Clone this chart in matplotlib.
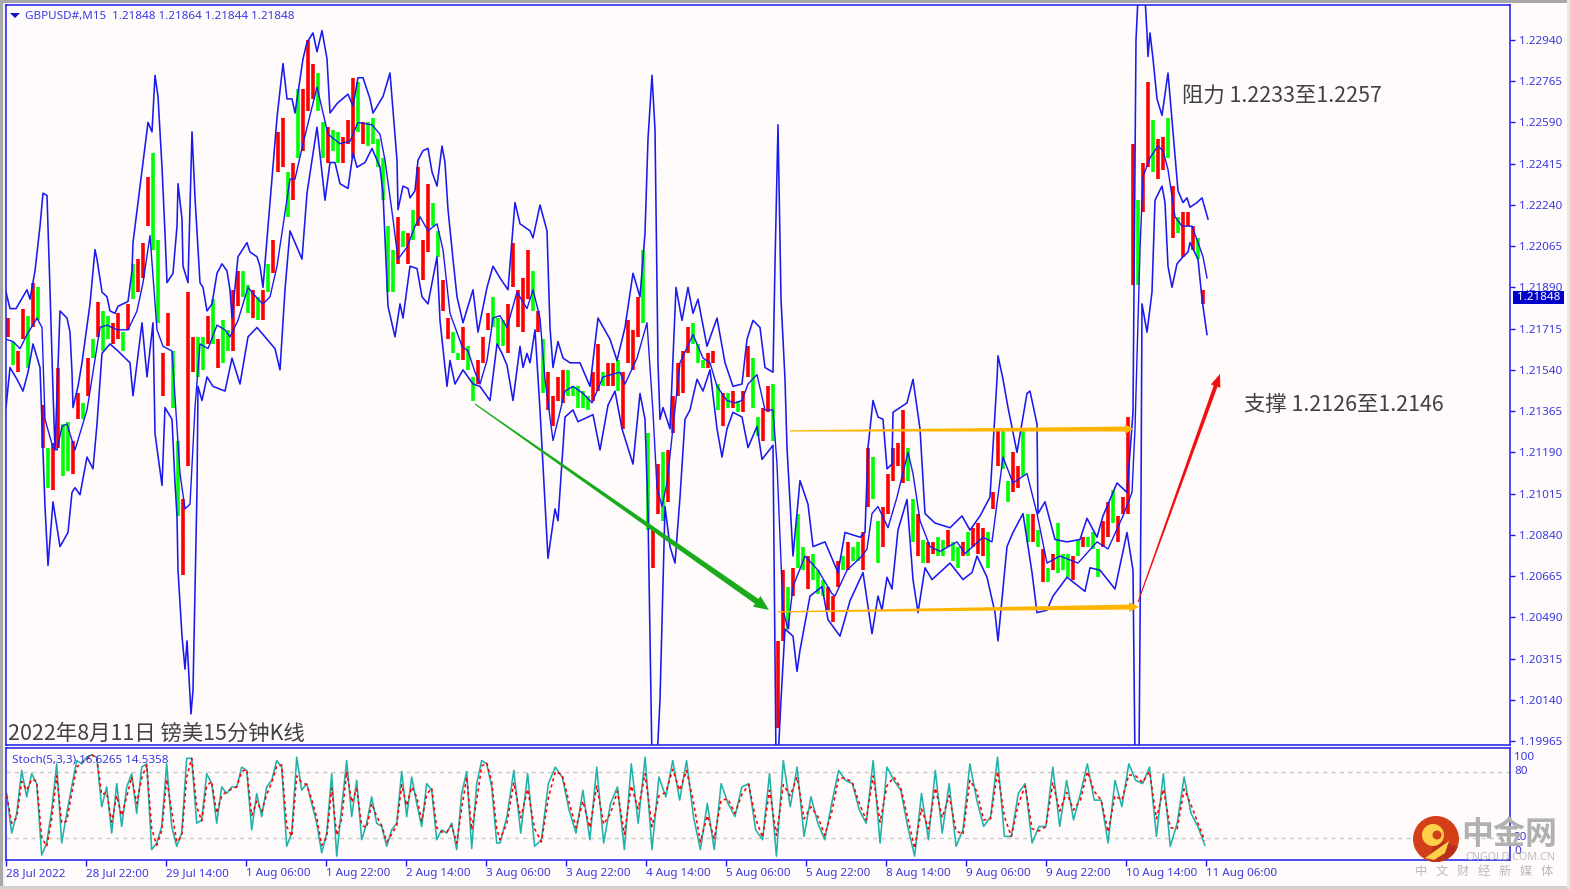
import numpy as np
import matplotlib
matplotlib.use("Agg")
import matplotlib.pyplot as plt
from matplotlib.patches import Polygon, Rectangle, Circle, Wedge
from matplotlib.transforms import IdentityTransform

# ---- data: (trading hours since the first bar, price) ----
upper_band = [(0,1.2187),(.8,1.2180),(2,1.2180),(4.2,1.2188),(4.8,1.2184),(5.8,1.2196),(6.8,1.2215),(7.4,1.2229),(8.2,1.2228),(8.8,1.2188),
(9.4,1.2145),(9.8,1.2120),(10.8,1.2179),(12.2,1.2176),(12.8,1.2170),(13.2,1.2153),(13.4,1.2138),(14.4,1.2147),(15.2,1.2157),(16.8,1.2182),
(17.8,1.2205),(18.2,1.2201),(19.2,1.2187),(20.2,1.2185),(20.8,1.2179),(21.8,1.2178),(22.4,1.2181),(24.4,1.2183),(25.2,1.2196),(25.4,1.2208),
(28.4,1.2259),(29.2,1.2255),(29.8,1.2279),(30.4,1.2270),(31.2,1.2240),(31.8,1.2212),(32.2,1.2191),(33.4,1.2195),(34.2,1.2215),(34.4,1.2233),
(35.2,1.2218),(35.4,1.2198),(36.4,1.2191),(37.2,1.2255),(37.8,1.2227),(38.8,1.2191),(39.4,1.2189),(40.2,1.2179),(41.2,1.2182),(42.2,1.2195),
(43.2,1.2199),(44.2,1.2196),(44.8,1.2188),(45.2,1.2176),(46.4,1.2202),(48.2,1.2208),(48.8,1.2204),(50.2,1.2202),(50.8,1.2198),(51.4,1.2189),
(54.2,1.2261),(55.4,1.2284),(56.2,1.2269),(57.2,1.2269),(57.8,1.2263),(59.4,1.2286),(60.2,1.2293),(61.4,1.2297),(62.2,1.2289),(63.2,1.2298),
(64.2,1.2286),(64.8,1.2263),(66.2,1.2267),(68.4,1.2271),(69.4,1.2266),(70.4,1.2278),(71.4,1.2278),(72.8,1.2269),(73.4,1.2263),(75.4,1.2270),
(76.8,1.2280),(77.4,1.2264),(78.2,1.2243),(78.4,1.2222),(79.4,1.2232),(80.4,1.2231),(80.8,1.2227),(81.8,1.2230),(82.4,1.2243),(83.4,1.2247),
(84.4,1.2248),(85.2,1.2238),(86.2,1.2232),(87.2,1.2249),(87.8,1.2242),(88.4,1.2222),(89.4,1.2201),(90.2,1.2185),(91.4,1.2174),(93.4,1.2188),
(94.4,1.2170),(96.2,1.2189),(97.4,1.2198),(98.8,1.2193),(100.4,1.2188),(101.8,1.2225),(102.8,1.2216),(104.8,1.2213),(105.4,1.2210),(106.8,1.2224),
(108.2,1.2213),(108.8,1.2172),(109.4,1.2155),(110.4,1.2166),(111.4,1.2159),(112.8,1.2157),(114.8,1.2157),(116.8,1.2147),(118.4,1.2176),(120.8,1.2167),
(122.2,1.2158),(123.8,1.2172),(125.4,1.2195),(126.8,1.2185),(127.8,1.2212),(128.4,1.2252),(129.2,1.2279),(129.8,1.2256),(130.4,1.2157),(130.8,1.2133),
(131.4,1.2138),(132.8,1.2129),(134,1.2189),(135.2,1.2175),(136.4,1.2189),(137.4,1.2178),(138.4,1.2184),(140.2,1.2164),(142.2,1.2176),(143.8,1.2157),
(145.4,1.2147),(147.2,1.2148),(148.2,1.2167),(149.4,1.2175),(150.8,1.2172),(151.8,1.2155),(153.4,1.2153),(153.8,1.2199),(154.4,1.2258),(155,1.2184),
(155.8,1.2150),(156.2,1.2121),(157.4,1.2075),(158.8,1.2107),(160.4,1.2097),(161.4,1.2079),(163.8,1.2081),(166.4,1.2068),(167.8,1.2085),(170.8,1.2083),
(171.8,1.2085),(172.4,1.2121),(173.4,1.2141),(174.4,1.2134),(175.4,1.2133),(176.2,1.2112),(177.2,1.2114),(177.4,1.2136),(178.8,1.2138),(180.2,1.2140),
(181.4,1.2150),(182.8,1.2129),(183.8,1.2093),(185.8,1.2089),(188.8,1.2087),(191.2,1.2092),(192.8,1.2086),(194.8,1.2092),(196.8,1.2100),(198.2,1.2150),
(198.4,1.2160),(199.4,1.2150),(200.4,1.2138),(202.2,1.2119),(204.2,1.2144),(204.8,1.2145),(206.2,1.2131),(206.4,1.2093),(207.8,1.2098),(209.8,1.2082),
(212.2,1.2081),(214.8,1.2082),(216.2,1.2091),(218.2,1.2083),(219.4,1.2092),(222.2,1.2106),(224.2,1.2102),(225.4,1.2136),(226,1.2294),(226.4,1.2312),
(227.8,1.2312),(228.2,1.2297),(228.4,1.2287),(228.8,1.2297),(229.4,1.2286),(230.2,1.2269),(231.2,1.2262),(232.4,1.2280),(233.4,1.2255),(234.4,1.2230),
(235.4,1.2225),(236.2,1.2227),(236.8,1.2223),(238.2,1.2225),(239.2,1.2227),(240.4,1.2218)]

middle_band = [(0,1.2167),(1.4,1.2166),(2.8,1.2163),(4.2,1.2169),(6.2,1.2176),(7.2,1.2172),(7.8,1.2133),(9.4,1.2121),(10.2,1.2120),(11.2,1.2130),
(12.2,1.2131),(13.8,1.2120),(15.2,1.2130),(16.2,1.2137),(17.4,1.2153),(18.8,1.2172),(20.2,1.2173),(22.2,1.2171),(24.4,1.2171),(26.2,1.2179),
(27.4,1.2191),(28.8,1.2211),(30.2,1.2171),(31.4,1.2164),(33.2,1.2162),(34.8,1.2110),(35.8,1.2095),(36.8,1.2097),(37.8,1.2138),(38.8,1.2165),
(40.4,1.2163),(42.2,1.2173),(43.8,1.2171),(44.8,1.2168),(46.4,1.2175),(48.4,1.2189),(50.4,1.2184),(51.4,1.2182),(52.8,1.2185),(54.2,1.2198),
(56.8,1.2235),(57.8,1.2235),(59.4,1.2250),(62.2,1.2274),(64.4,1.2254),(66.8,1.2250),(68.8,1.2251),(70.4,1.2259),(73.2,1.2258),(74.8,1.2254),
(75.8,1.2243),(77.4,1.2218),(78.4,1.2201),(80.2,1.2206),(81.8,1.2215),(82.8,1.2219),(84.4,1.2213),(86.2,1.2216),(87.4,1.2205),(88.8,1.2178),
(91.2,1.2164),(92.4,1.2162),(93.8,1.2153),(94.8,1.2148),(96.2,1.2158),(97.4,1.2176),(98.8,1.2177),(100.2,1.2172),(102.2,1.2187),(104.2,1.2180),
(105.4,1.2188),(106.8,1.2176),(107.8,1.2150),(109.4,1.2124),(111.8,1.2145),(113.4,1.2147),(115.4,1.2144),(117.2,1.2140),(119.4,1.2151),(122.8,1.2153),
(123.8,1.2148),(126.2,1.2159),(128.2,1.2174),(129.4,1.2136),(130.2,1.2104),(131.2,1.2096),(132.2,1.2106),(134.8,1.2157),(137.4,1.2169),(139.4,1.2159),
(140.8,1.2157),(142.2,1.2147),(144.2,1.2141),(145.8,1.2140),(147.2,1.2141),(148.4,1.2148),(150.2,1.2152),(151.8,1.2137),(153.4,1.2137),(154.2,1.2114),
(155.4,1.2052),(156.4,1.2044),(157.4,1.2062),(159.8,1.2075),(162.4,1.2069),(165.2,1.2059),(165.8,1.2058),(168.2,1.2069),(171.2,1.2075),(172.2,1.2078),
(173.2,1.2093),(174.4,1.2096),(176.4,1.2087),(178.2,1.2100),(180.4,1.2119),(181.4,1.2110),(182.8,1.2090),(184.8,1.2079),(186.8,1.2077),(190.2,1.2081),
(191.8,1.2076),(195.4,1.2083),(197.2,1.2081),(199.4,1.2117),(201.4,1.2106),(204.2,1.2110),(206.2,1.2093),(208.2,1.2072),(210.8,1.2075),(214.4,1.2072),
(218.2,1.2081),(220.4,1.2078),(223.4,1.2092),(225.2,1.2102),(225.8,1.2129),(226.8,1.2205),(227.4,1.2236),(228.8,1.2244),(230.4,1.2249),(231.4,1.2247),
(232.4,1.2239),(233.8,1.2219),(235.2,1.2215),(237.2,1.2215),(238.4,1.2208),(239.4,1.2202),(240.2,1.2193)]

lower_band = [(0,1.2138),(.8,1.2155),(2.2,1.2150),(3.4,1.2145),(4.4,1.2153),(5.4,1.2165),(6.8,1.2155),(7.8,1.2096),(8.4,1.2071),(9.4,1.2098),
(10.8,1.2079),(12.4,1.2085),(13.2,1.2102),(13.8,1.2104),(14.8,1.2101),(16.2,1.2117),(17.4,1.2112),(18.2,1.2131),(19.2,1.2161),(20.8,1.2165),
(22.4,1.2162),(24.8,1.2157),(25.4,1.2143),(27.2,1.2174),(28.2,1.2151),(29.4,1.2174),(29.8,1.2127),(31.2,1.2105),(31.8,1.2138),(33.2,1.2133),
(33.8,1.2106),(34.2,1.2092),(34.4,1.2069),(35.2,1.2041),(35.8,1.2027),(36.2,1.2039),(37,1.2008),(37.4,1.2018),(38.2,1.2103),(38.4,1.2147),
(39.2,1.2141),(40.2,1.2151),(41.4,1.2147),(43.8,1.2145),(45.2,1.2159),(46.8,1.2148),(48.4,1.2168),(50.2,1.2172),(52.2,1.2167),(53.8,1.2163),
(54.8,1.2154),(55.8,1.2188),(56.8,1.2213),(57.8,1.2208),(59.2,1.2201),(60.2,1.2229),(62.2,1.2257),(63.8,1.2226),(64.8,1.2242),(65.8,1.2242),
(66.8,1.2233),(68.4,1.2231),(69.4,1.2246),(70.2,1.2240),(71.8,1.2242),(73.2,1.2248),(74.8,1.2240),(75.4,1.2229),(76.4,1.2181),(77.8,1.2168),
(78.8,1.2182),(79.4,1.2176),(80.8,1.2198),(82.2,1.2197),(83.2,1.2185),(84.4,1.2182),(86.2,1.2202),(86.8,1.2175),(88.2,1.2147),(88.8,1.2158),
(89.8,1.2148),(91.4,1.2154),(93.4,1.2148),(94.8,1.2147),(96.8,1.2141),(98.2,1.2165),(99.2,1.2161),(100.2,1.2156),(101.4,1.2141),(102.8,1.2164),
(103.4,1.2155),(104.2,1.2161),(104.8,1.2157),(105.8,1.2171),(106.8,1.2137),(108.4,1.2074),(109.8,1.2095),(110.4,1.2090),(111.8,1.2134),(113.4,1.2137),
(114.4,1.2132),(117.4,1.2135),(118.8,1.2120),(120.4,1.2139),(121.8,1.2145),(123.2,1.2129),(125.4,1.2114),(126.8,1.2144),(127.8,1.2133),(128.4,1.2093),
(129.2,1.1988),(130.2,1.1988),(130.8,1.2014),(131.8,1.2096),(132.8,1.2079),(133.8,1.2072),(134.8,1.2100),(135.8,1.2133),(136.8,1.2137),(138.2,1.2150),
(139.4,1.2145),(140.8,1.2154),(142.2,1.2129),(143.2,1.2117),(144.2,1.2129),(145.4,1.2136),(147.2,1.2134),(148.4,1.2121),(150.2,1.2130),(151.2,1.2116),
(153.4,1.2122),(154,1.1988),(154.4,1.1988),(155,1.2014),(155.8,1.2044),(157.4,1.2041),(158.2,1.2026),(158.8,1.2035),(160.8,1.2058),(163.2,1.2062),
(164.4,1.2048),(166.8,1.2041),(168.8,1.2056),(171.4,1.2068),(173.2,1.2042),(174.4,1.2058),(175.2,1.2052),(176.2,1.2066),(177.2,1.2061),(178.4,1.2086),
(180.2,1.2099),(181.4,1.2065),(182.4,1.2051),(183.8,1.2070),(185.2,1.2065),(188.8,1.2072),(191.4,1.2065),(193.2,1.2068),(194.2,1.2075),(196.2,1.2066),
(197.8,1.2051),(198.4,1.2039),(200.2,1.2079),(201.4,1.2085),(203.4,1.2093),(205.2,1.2068),(206.2,1.2051),(208.2,1.2052),(209.4,1.2058),(212.2,1.2066),
(215.8,1.2060),(216.8,1.2070),(218.8,1.2069),(221.8,1.2061),(224.2,1.2085),(225.4,1.2069),(225.8,1.1988),(226.6,1.1988),(227,1.2099),(227.2,1.2182),
(228.2,1.2170),(229.2,1.2187),(229.8,1.2226),(231.2,1.2232),(231.8,1.2225),(232.4,1.2198),(233.2,1.2189),(234.2,1.2199),(235.4,1.2202),(236.4,1.2204),
(236.8,1.2208),(238.4,1.2201),(239.2,1.2184),(240.2,1.2169)]

# one sampled candle per trading hour: (high, low, bullish flag)
candles = [
(1.2176,1.2168,1),(1.2166,1.2156,0),(1.2162,1.2153,1),(1.2180,1.2167,1),(1.2177,1.2155,0),(1.2191,1.2172,1),(1.2189,1.2175,0),(1.2139,1.2121,1),(1.2121,1.2104,0),(1.2123,1.2103,1),
(1.2155,1.2121,1),(1.2131,1.2109,0),(1.2132,1.2111,0),(1.2124,1.2110,1),(1.2144,1.2133,1),(1.2140,1.2133,0),(1.2159,1.2143,1),(1.2167,1.2159,0),(1.2183,1.2168,1),(1.2179,1.2162,0),
(1.2177,1.2167,0),(1.2174,1.2165,1),(1.2178,1.2167,1),(1.2170,1.2162,0),(1.2182,1.2171,1),(1.2199,1.2184,0),(1.2201,1.2187,1),(1.2208,1.2193,1),(1.2236,1.2215,1),(1.2246,1.2205,0),
(1.2209,1.2174,0),(1.2161,1.2143,1),(1.2178,1.2164,1),(1.2162,1.2138,0),(1.2124,1.2092,0),(1.2099,1.2067,1),(1.2187,1.2113,1),(1.2168,1.2153,1),(1.2168,1.2151,0),(1.2168,1.2154,0),
(1.2177,1.2165,1),(1.2184,1.2165,0),(1.2167,1.2155,1),(1.2175,1.2157,0),(1.2171,1.2162,0),(1.2188,1.2162,1),(1.2196,1.2181,1),(1.2196,1.2185,0),(1.2190,1.2178,0),(1.2188,1.2176,1),
(1.2185,1.2175,0),(1.2188,1.2175,1),(1.2199,1.2187,0),(1.2209,1.2195,1),(1.2255,1.2238,1),(1.2261,1.2240,1),(1.2238,1.2219,0),(1.2242,1.2226,1),(1.2273,1.2244,0),(1.2273,1.2247,1),
(1.2294,1.2264,1),(1.2284,1.2269,1),(1.2280,1.2264,0),(1.2259,1.2244,0),(1.2257,1.2242,1),(1.2256,1.2247,0),(1.2255,1.2242,0),(1.2253,1.2242,1),(1.2260,1.2250,1),(1.2278,1.2244,1),
(1.2276,1.2255,0),(1.2259,1.2250,1),(1.2259,1.2249,0),(1.2261,1.2250,0),(1.2252,1.2240,0),(1.2244,1.2226,0),(1.2215,1.2187,0),(1.2205,1.2187,0),(1.2219,1.2199,1),(1.2213,1.2206,0),
(1.2212,1.2199,1),(1.2222,1.2209,0),(1.2240,1.2215,1),(1.2209,1.2192,1),(1.2233,1.2204,1),(1.2225,1.2215,0),(1.2213,1.2202,0),(1.2192,1.2179,1),(1.2176,1.2167,1),(1.2170,1.2161,0),
(1.2161,1.2158,0),(1.2172,1.2158,1),(1.2164,1.2154,0),(1.2151,1.2141,0),(1.2158,1.2148,1),(1.2168,1.2157,1),(1.2178,1.2171,1),(1.2185,1.2172,0),(1.2176,1.2164,0),(1.2175,1.2164,0),
(1.2182,1.2161,1),(1.2208,1.2189,1),(1.2188,1.2172,1),(1.2193,1.2170,1),(1.2205,1.2184,1),(1.2196,1.2179,0),(1.2179,1.2170,1),(1.2167,1.2144,0),(1.2153,1.2137,1),(1.2143,1.2130,1),
(1.2151,1.2141,1),(1.2154,1.2140,1),(1.2154,1.2143,0),(1.2147,1.2143,0),(1.2147,1.2138,0),(1.2145,1.2138,0),(1.2143,1.2137,0),(1.2153,1.2141,1),(1.2165,1.2145,1),(1.2153,1.2147,0),
(1.2157,1.2147,1),(1.2157,1.2147,1),(1.2158,1.2145,0),(1.2153,1.2129,1),(1.2175,1.2157,1),(1.2171,1.2154,1),(1.2185,1.2168,1),(1.2205,1.2174,0),(1.2127,1.2086,0),(1.2086,1.2070,1),
(1.2114,1.2093,1),(1.2119,1.2090,0),(1.2120,1.2098,1),(1.2143,1.2127,1),(1.2157,1.2143,1),(1.2162,1.2144,1),(1.2172,1.2161,1),(1.2174,1.2165,0),(1.2165,1.2157,0),(1.2158,1.2155,0),
(1.2161,1.2155,1),(1.2162,1.2157,1),(1.2148,1.2137,0),(1.2144,1.2130,1),(1.2144,1.2138,0),(1.2145,1.2138,1),(1.2141,1.2136,0),(1.2145,1.2136,1),(1.2164,1.2151,1),(1.2159,1.2138,0),
(1.2134,1.2126,0),(1.2138,1.2124,1),(1.2147,1.2136,1),(1.2148,1.2124,0),(1.2039,1.2002,1),(1.2069,1.2039,1),(1.2062,1.2044,0),(1.2070,1.2058,1),(1.2093,1.2070,0),(1.2079,1.2069,0),
(1.2075,1.2061,1),(1.2076,1.2065,0),(1.2069,1.2059,0),(1.2065,1.2058,0),(1.2062,1.2052,1),(1.2058,1.2047,1),(1.2073,1.2062,1),(1.2075,1.2069,0),(1.2081,1.2069,1),(1.2079,1.2073,0),
(1.2081,1.2073,0),(1.2085,1.2069,1),(1.2121,1.2096,1),(1.2117,1.2099,0),(1.2090,1.2072,0),(1.2096,1.2079,1),(1.2110,1.2093,1),(1.2121,1.2107,1),(1.2123,1.2113,1),(1.2137,1.2106,1),
(1.2121,1.2107,0),(1.2099,1.2081,0),(1.2093,1.2075,1),(1.2082,1.2072,0),(1.2081,1.2072,1),(1.2081,1.2076,1),(1.2083,1.2075,0),(1.2082,1.2075,0),(1.2086,1.2079,1),(1.2081,1.2073,0),
(1.2079,1.2070,0),(1.2081,1.2075,1),(1.2085,1.2075,0),(1.2087,1.2079,1),(1.2089,1.2076,1),(1.2087,1.2075,1),(1.2085,1.2070,0),(1.2102,1.2095,1),(1.2129,1.2113,1),(1.2129,1.2112,0),
(1.2107,1.2098,0),(1.2119,1.2102,1),(1.2113,1.2104,1),(1.2129,1.2109,0),(1.2093,1.2081,0),(1.2093,1.2081,1),(1.2086,1.2079,0),(1.2078,1.2064,1),(1.2070,1.2064,0),(1.2076,1.2069,1),
(1.2089,1.2068,0),(1.2076,1.2069,0),(1.2076,1.2066,0),(1.2075,1.2065,1),(1.2082,1.2075,0),(1.2083,1.2079,1),(1.2083,1.2079,0),(1.2085,1.2078,0),(1.2078,1.2066,0),(1.2090,1.2079,1),
(1.2098,1.2083,1),(1.2103,1.2089,0),(1.2092,1.2081,1),(1.2100,1.2093,1),(1.2134,1.2093,1),(1.2250,1.2190,1),(1.2226,1.2190,0),(1.2242,1.2221,1),(1.2276,1.2240,1),(1.2260,1.2238,0),
(1.2252,1.2235,1),(1.2253,1.2239,1),(1.2261,1.2244,0),(1.2232,1.2210,1),(1.2219,1.2212,0),(1.2221,1.2202,1),(1.2221,1.2215,1),(1.2215,1.2205,1),(1.2210,1.2201,0),(1.2188,1.2182,1)]

stoch_k_early = [60,24,42,81,57,78,69,4,15,45,87,15,42,66,90,87,93,95,93,48,66,24,69,30,66,78,42,84,87,9,
15,30,87,30,12,24,92,92,33,36,78,69,33,66,60,66,66,84,81,27,60,39,66,72,90,84,12,24,93,63,
69,51,33,6,24,78,3,48,90,39,72,18,33,57,33,30,12,27,33,80,39,75,51,30,69,63,18,27,24,33,
9,60,80,10,69,90,87,66,15]
stoch_d_early = [58,33,38,71,63,73,71,20,12,37,76,33,35,60,84,88,91,95,93,59,61,34,58,40,57,75,51,74,86,28,
13,26,73,44,16,21,75,92,48,35,67,71,42,58,62,64,66,80,82,40,53,44,59,70,85,86,30,21,76,70,
68,55,38,13,20,65,22,37,80,52,64,31,29,51,39,31,16,23,31,68,49,66,57,35,59,65,29,25,25,31,
15,47,75,27,54,85,88,71,28]
stoch_k_late = [15,39,81,24,78,12,18,69,84,75,45,24,63,18,84,15,51,66,9,87,33,93,9,75,57,90,54,90,39,9,
51,9,69,51,39,66,69,27,18,78,3,90,48,84,21,57,33,18,51,81,72,69,45,33,90,15,84,72,63,30,
3,60,18,81,24,69,12,27,87,54,30,39,93,21,21,60,69,15,30,30,84,30,72,36,60,87,54,54,15,72,
48,87,72,69,84,21,78,12,33,75,42,30,13]
stoch_d_late = [18,33,70,38,64,28,16,56,80,77,52,29,53,29,67,32,42,62,23,67,46,78,30,58,61,82,63,81,52,16,
40,19,54,55,42,59,68,37,20,63,22,68,58,75,37,48,39,22,43,74,74,70,51,36,76,34,67,75,65,38,
10,46,28,65,38,58,26,23,72,62,36,37,80,39,21,50,67,28,26,30,70,44,61,45,54,80,62,54,25,58,
54,77,76,70,80,37,64,29,28,64,50,33,17]

price_ticks = [1.22940,1.22765,1.22590,1.22415,1.22240,1.22065,1.21890,1.21715,1.21540,1.21365,1.21190,1.21015,1.20840,1.20665,1.20490,1.20315,1.20140,1.19965]
stoch_levels = [80,20]
stoch_tick_labels = ["100","80","20","0"]
time_labels = ["28 Jul 2022","28 Jul 22:00","29 Jul 14:00","1 Aug 06:00","1 Aug 22:00","2 Aug 14:00","3 Aug 06:00","3 Aug 22:00",
               "4 Aug 14:00","5 Aug 06:00","5 Aug 22:00","8 Aug 14:00","9 Aug 06:00","9 Aug 22:00","10 Aug 14:00","11 Aug 06:00"]
last_price = 1.21848

# trend arrows: ((hour, price), (hour, price))
green_arrow = ((93.8,1.21395),(152.6,1.20521))
top_arrow = ((156.8,1.21281),(225.4,1.21289))
base_arrow = ((154.4,1.20513),(226.6,1.20534))
red_arrow = ((226.4,1.20555),(242.8,1.21523))

# ---- style ----
W, H = 1570, 889
BG = "#FFFBFB"; BLUE = "#1A1AF0"; TXT = "#3A3AE0"; GREY = "#404040"
CJK = ["Noto Sans CJK SC", "DejaVu Sans"]
plt.rcParams["font.family"] = ["Noto Sans", "DejaVu Sans"]

fig = plt.figure(figsize=(W/100, H/100), dpi=100, facecolor=BG)

def pane(left, top, right, bottom):
    a = fig.add_axes([left/W, 1-bottom/H, (right-left)/W, (bottom-top)/H], facecolor=BG)
    for s in a.spines.values():
        s.set_color(BLUE); s.set_linewidth(1.1)
    return a

ax = pane(6, 5, 1510, 745)
ax2 = pane(6, 748, 1510, 860)
x_max = (1510-6)/5
ax.set_xlim(0, x_max); ax2.set_xlim(0, x_max)
ax.set_ylim(1.199480, 1.230885)
ax2.set_ylim(-0.45, 101.4)

# candles
hours = 0.4 + np.arange(len(candles))
c = np.array(candles)
colors = ["#FF0000" if f else "#00FF00" for f in c[:, 2]]
ax.vlines(hours, c[:, 1], c[:, 0], colors=colors, linewidth=2.6, zorder=2)

# bands
for band, lw in ((upper_band, 1.15), (lower_band, 1.15), (middle_band, 1.0)):
    b = np.array(band)
    ax.plot(b[:, 0], b[:, 1], color=BLUE, lw=lw, zorder=3, solid_joinstyle="round")

# stochastic
n1, n2 = len(stoch_k_early), len(stoch_k_late)
st = np.r_[0.14 + np.arange(n1)*1.0, 98.8 + np.arange(n2)*1.382]
for lvl in stoch_levels:
    ax2.axhline(lvl, color="#C8C8C8", lw=1, ls=(0, (3, 3)), zorder=1)
ax2.plot(st, stoch_k_early+stoch_k_late, color="#20B2AA", lw=1.15, zorder=2)
ax2.plot(st, stoch_d_early+stoch_d_late, color="#FF0000", lw=1.15, ls=(0, (2, 2)), zorder=3)

# axis ticks
ax.yaxis.tick_right()
ax.set_yticks(price_ticks); ax.set_yticklabels([f"{p:.5f}" for p in price_ticks])
ax.set_xticks([])
ax.tick_params(axis="y", colors=BLUE, length=3.5, width=1, pad=3, labelsize=8.4, labelcolor=TXT)
ax2.set_yticks([])
tpos = 16*np.arange(len(time_labels))
ax2.set_xticks(tpos); ax2.set_xticklabels(time_labels, ha="left")
ax2.tick_params(axis="x", colors=BLUE, length=4, width=1, pad=2, labelsize=8.4, labelcolor=TXT)

# tapered arrows drawn in display space from data end points
def taper(a, arrow, start_w, end_w, head_w, head_len, color, z=5):
    p0 = ax.transData.transform(arrow[0]); p1 = ax.transData.transform(arrow[1])
    d = p1-p0; L = np.hypot(*d); u = d/L; n = np.array([-u[1], u[0]])
    neck = p1-u*head_len
    pts = [p0+n*start_w/2, neck+n*end_w/2, neck+n*head_w/2, p1, neck-n*head_w/2, neck-n*end_w/2, p0-n*start_w/2]
    a.add_patch(Polygon(pts, closed=True, facecolor=color, edgecolor="none",
                        transform=IdentityTransform(), zorder=z, clip_on=False))

taper(ax, green_arrow, 1.2, 6, 13, 15, "#1AAB1A")
taper(ax, top_arrow, 1.2, 5, 10, 8, "#FFB400")
taper(ax, base_arrow, 1.2, 5, 10, 10, "#FFB400")
taper(ax, red_arrow, 1.0, 4, 10, 13, "#F01010", z=6)

# overlay in picture pixels for captions and decoration
ov = fig.add_axes([0, 0, 1, 1], facecolor="none")
ov.set_xlim(0, W); ov.set_ylim(H, 0); ov.axis("off")
ov.set_zorder(10)
ov.add_patch(Rectangle((0, 0), W, 2.5, color="#A8A8A8", lw=0))
ov.add_patch(Rectangle((0, 0), 2.5, H, color="#A8A8A8", lw=0))
ov.add_patch(Rectangle((2.5, 2.5), 2.5, H, color="#F0F0F0", lw=0))
ov.add_patch(Rectangle((0, 886), W, 3, color="#D0D0D0", lw=0))
ov.add_patch(Rectangle((1567, 0), 3, H, color="#E8E8E8", lw=0))

ov.add_patch(Polygon([(10, 13), (20, 13), (15, 18)], closed=True, color="#1010C0", lw=0))
ov.text(25, 16, "GBPUSD#,M15  1.21848 1.21864 1.21844 1.21848", fontsize=8.4, color=TXT, va="center", ha="left")
ov.text(12, 759.5, "Stoch(5,3,3) 16.6265 14.5358", fontsize=8.4, color=TXT, va="center", ha="left")

ov.text(8, 734, "2022年8月11日 镑美15分钟K线", fontsize=15.4, color=GREY, family=CJK, va="center", ha="left")
ov.text(1182, 96, "阻力 1.2233至1.2257", fontsize=15.4, color=GREY, family=CJK, va="center", ha="left")
ov.text(1244, 405, "支撑 1.2126至1.2146", fontsize=15.4, color=GREY, family=CJK, va="center", ha="left")

# stochastic scale labels sit at the terminal's own offsets
for lab, yy in zip(stoch_tick_labels, (757, 771.5, 838, 852)):
    ov.text(1514, yy, lab, fontsize=8.4, color=TXT, va="center", ha="left")

# last-price box
yp = H - ax.transData.transform((0, last_price))[1]
ov.add_patch(Rectangle((1513, yp-6.5), 51, 13.5, color="#0000C8", lw=0))
ov.text(1538.5, yp+0.5, f"{last_price:.5f}", fontsize=8.4, color="white", va="center", ha="center")

# watermark
ov.add_patch(Circle((1436, 839), 23, color="#D23F18", lw=0))
ov.add_patch(Wedge((1436, 839), 23, 20, 110, color="#B9301A", lw=0))
ov.add_patch(Circle((1433, 835), 11, color="#FFCF4A", lw=0))
ov.add_patch(Circle((1437, 835), 4.5, color="#D23F18", lw=0))
ov.add_patch(Polygon([(1425, 858), (1449, 841), (1445, 853), (1434, 860)], closed=True, color="#FFCF4A", lw=0))
ov.text(1509, 835, "中金网", fontsize=23, fontweight="bold", color="#B0B0B0", family=CJK, va="center", ha="center")
ov.text(1510, 857.5, "CNGOLD.COM.CN", fontsize=7.8, color="#BDBDBD", va="center", ha="center")
for i, ch in enumerate("中文财经新媒体"):
    ov.text(1421 + 21*i, 871, ch, fontsize=8.8, color="#B8B8B8", family=CJK, va="center", ha="center")

fig.savefig("out.png", dpi=100, facecolor=BG)
